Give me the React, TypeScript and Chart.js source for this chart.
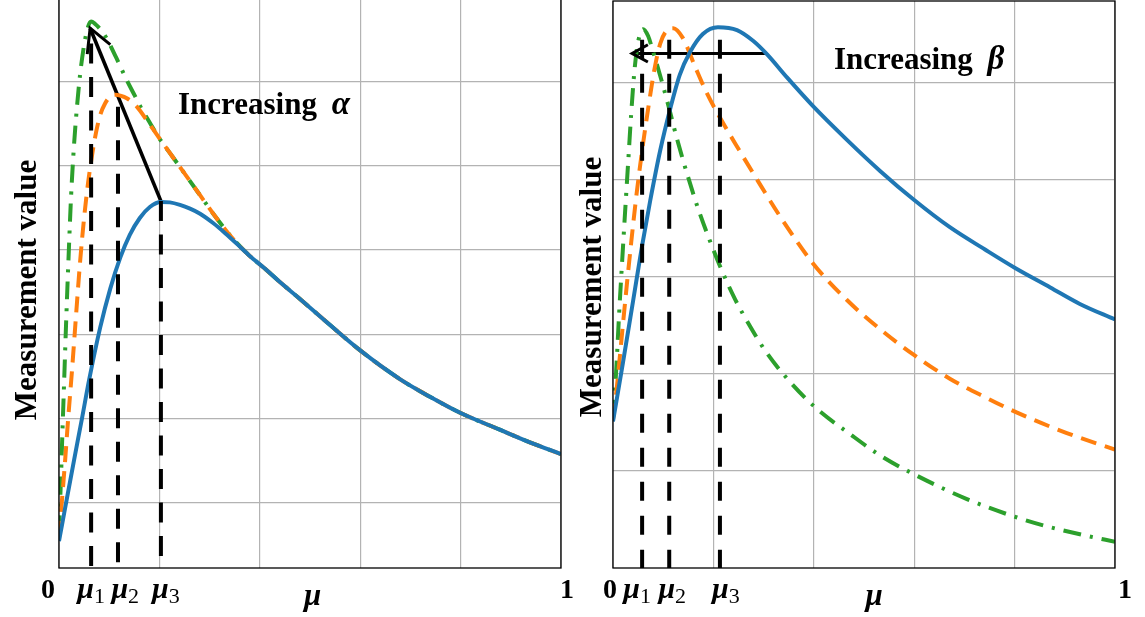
import React, { useEffect, useRef } from "react";
import { Chart, registerables } from "chart.js";

Chart.register(...registerables);

const BLUE = "#1f77b4";
const ORANGE = "#ff7f0e";
const GREEN = "#2ca02c";
const SERIF = "'Liberation Serif', 'Times New Roman', serif";

// ---------- Left panel: increasing alpha ----------
const leftBlueMu = [0, 0.006, 0.014, 0.03, 0.046, 0.06, 0.082, 0.102, 0.122, 0.141, 0.161, 0.181, 0.203, 0.221, 0.241, 0.261, 0.281, 0.307, 0.331, 0.355, 0.38, 0.41, 0.44, 0.48, 0.54, 0.6, 0.679, 0.739, 0.799, 0.878, 0.938, 1];
const leftBlueVal = [-0.45, -0.26, 0, 0.51, 1.01, 1.46, 2.08, 2.54, 2.91, 3.18, 3.38, 3.51, 3.57, 3.565, 3.535, 3.49, 3.43, 3.32, 3.2, 3.07, 2.93, 2.78, 2.62, 2.42, 2.11, 1.81, 1.47, 1.26, 1.07, 0.87, 0.72, 0.58];

const leftOrangeMu = [0, 0.006, 0.012, 0.018, 0.026, 0.034, 0.042, 0.05, 0.058, 0.066, 0.074, 0.082, 0.092, 0.102, 0.112, 0.122, 0.135, 0.155, 0.177, 0.197, 0.227, 0.245, 0.281, 0.311, 0.347, 0.38, 0.41, 0.44, 0.48, 0.54, 0.6, 0.679, 0.739, 0.799, 0.878, 0.938, 1];
const leftOrangeVal = [-0.4, 0.04, 0.49, 0.98, 1.58, 2.23, 2.86, 3.38, 3.8, 4.13, 4.4, 4.6, 4.74, 4.82, 4.84, 4.83, 4.8, 4.7, 4.52, 4.35, 4.1, 3.95, 3.65, 3.4, 3.13, 2.93, 2.78, 2.62, 2.42, 2.11, 1.81, 1.47, 1.26, 1.07, 0.87, 0.72, 0.58];

const leftGreenMu = [0, 0.004, 0.006, 0.01, 0.014, 0.02, 0.024, 0.03, 0.036, 0.042, 0.05, 0.058, 0.064, 0.072, 0.082, 0.094, 0.114, 0.137, 0.151, 0.165, 0.181, 0.197, 0.227, 0.245, 0.281, 0.311, 0.347, 0.38, 0.41, 0.44, 0.48, 0.54, 0.6, 0.679, 0.739, 0.799, 0.878, 0.938, 1];
const leftGreenVal = [-0.36, 0.31, 0.69, 1.4, 2.11, 3.06, 3.63, 4.25, 4.71, 5.08, 5.43, 5.65, 5.71, 5.68, 5.62, 5.52, 5.28, 4.99, 4.83, 4.67, 4.51, 4.35, 4.1, 3.95, 3.65, 3.4, 3.13, 2.93, 2.78, 2.62, 2.42, 2.11, 1.81, 1.47, 1.26, 1.07, 0.87, 0.72, 0.58];

const leftMarkerMu = [0.064, 0.1175, 0.203];
const leftMarkerTop = [5.45, 4.7, 3.58];
const leftArrowMu = [0.203, 0.062];
const leftArrowVal = [3.58, 5.63];
const leftYGrid = [0, 1, 2, 3, 4, 5];
const leftTickMu = [-0.022, 0.064, 0.132, 0.213, 1.012];
const leftTickLabels = ["0", "μ_1", "μ_2", "μ_3", "1"];
const leftNote = "Increasing";
const leftNoteSymbol = "α";
const leftNoteAt = [0.237, 4.61];

// ---------- Right panel: increasing beta ----------
const rightBlueMu = [0, 0.02, 0.04, 0.058, 0.074, 0.094, 0.114, 0.133, 0.153, 0.179, 0.209, 0.247, 0.279, 0.307, 0.347, 0.398, 0.466, 0.532, 0.6, 0.671, 0.741, 0.801, 0.871, 0.93, 1];
const rightBlueVal = [1.51, 2.12, 2.75, 3.32, 3.78, 4.3, 4.73, 5.08, 5.31, 5.5, 5.57, 5.54, 5.43, 5.29, 5.05, 4.76, 4.41, 4.09, 3.79, 3.51, 3.28, 3.09, 2.89, 2.72, 2.56];

const rightOrangeMu = [0, 0.006, 0.012, 0.02, 0.028, 0.036, 0.046, 0.058, 0.07, 0.082, 0.094, 0.106, 0.12, 0.139, 0.163, 0.187, 0.213, 0.253, 0.287, 0.333, 0.398, 0.466, 0.532, 0.598, 0.671, 0.741, 0.805, 0.904, 1];
const rightOrangeVal = [1.53, 1.78, 2.09, 2.52, 2.94, 3.34, 3.81, 4.3, 4.73, 5.12, 5.4, 5.53, 5.56, 5.46, 5.17, 4.89, 4.64, 4.29, 4.0, 3.62, 3.14, 2.76, 2.46, 2.2, 1.95, 1.76, 1.6, 1.39, 1.22];

const rightGreenMu = [0, 0.004, 0.008, 0.012, 0.018, 0.024, 0.03, 0.036, 0.042, 0.048, 0.054, 0.06, 0.07, 0.078, 0.094, 0.11, 0.127, 0.147, 0.169, 0.193, 0.213, 0.243, 0.273, 0.303, 0.347, 0.406, 0.472, 0.532, 0.598, 0.705, 0.805, 0.871, 0.936, 1];
const rightGreenVal = [1.55, 1.83, 2.19, 2.6, 3.14, 3.66, 4.16, 4.66, 5.08, 5.36, 5.5, 5.55, 5.48, 5.35, 5.07, 4.77, 4.43, 4.07, 3.71, 3.37, 3.11, 2.77, 2.49, 2.24, 1.95, 1.64, 1.38, 1.16, 0.97, 0.71, 0.52, 0.42, 0.34, 0.27];

const rightMarkerMu = [0.058, 0.112, 0.213];
const rightMarkerTop = [5.44, 5.44, 5.44];
const rightArrowMu = [0.303, 0.038];
const rightArrowVal = [5.3, 5.3];
const rightYGrid = [1, 2, 3, 4, 5];
const rightTickMu = [-0.006, 0.048, 0.118, 0.225, 1.02];
const rightTickLabels = ["0", "μ_1", "μ_2", "μ_3", "1"];
const rightNote = "Increasing";
const rightNoteSymbol = "β";
const rightNoteAt = [0.44, 5.14];

const xGrid = [0, 0.2, 0.4, 0.6, 0.8, 1];
const xTitle = "μ";
const yTitle = "Measurement value";

const pts = (xs: number[], ys: number[]) => xs.map((x, i) => ({ x, y: ys[i] }));

const decorPlugin = {
  id: "decor",
  afterDatasetsDraw(chart: any, _args: any, o: any) {
    const { ctx, chartArea: a } = chart;
    const xs = chart.scales.x;
    const ys = chart.scales.y;
    ctx.save();
    // frame
    ctx.strokeStyle = "#000";
    ctx.lineWidth = 1.3;
    ctx.strokeRect(a.left, a.top, a.right - a.left, a.bottom - a.top);

    // arrow head
    const ad = chart.data.datasets[o.arrowIndex].data;
    const x0 = xs.getPixelForValue(ad[0].x), y0 = ys.getPixelForValue(ad[0].y);
    const x1 = xs.getPixelForValue(ad[1].x), y1 = ys.getPixelForValue(ad[1].y);
    const ang = Math.atan2(y1 - y0, x1 - x0);
    const L = o.headLen, th = o.headAngle;
    ctx.strokeStyle = "#000";
    ctx.lineWidth = 3;
    ctx.lineCap = "butt";
    ctx.lineJoin = "miter";
    ctx.beginPath();
    ctx.moveTo(x1 - L * Math.cos(ang - th), y1 - L * Math.sin(ang - th));
    ctx.lineTo(x1, y1);
    ctx.lineTo(x1 - L * Math.cos(ang + th), y1 - L * Math.sin(ang + th));
    ctx.stroke();

    ctx.fillStyle = "#000";
    ctx.textBaseline = "alphabetic";

    // note text
    const nx = xs.getPixelForValue(o.noteAt[0]);
    const ny = ys.getPixelForValue(o.noteAt[1]);
    ctx.font = `bold 31px ${SERIF}`;
    ctx.textAlign = "left";
    ctx.fillText(o.note, nx, ny);
    const w = ctx.measureText(o.note + " ").width;
    ctx.font = `bold italic 33px ${SERIF}`;
    ctx.fillText(o.noteSymbol, nx + w + 7, ny);

    // tick labels
    const tickBase = a.bottom + 30;
    o.tickMu.forEach((m: number, i: number) => {
      const [main, sub] = o.tickLabels[i].split("_");
      const px = xs.getPixelForValue(m);
      if (sub) {
        ctx.font = `bold italic 30px ${SERIF}`;
        const mw = ctx.measureText(main).width;
        ctx.font = `22px ${SERIF}`;
        const sw = ctx.measureText(sub).width;
        const start = px - (mw + sw) / 2;
        ctx.textAlign = "left";
        ctx.font = `bold italic 30px ${SERIF}`;
        ctx.fillText(main, start, tickBase);
        ctx.font = `22px ${SERIF}`;
        ctx.fillText(sub, start + mw, tickBase + 5);
      } else {
        ctx.font = `bold 28px ${SERIF}`;
        ctx.textAlign = "center";
        ctx.fillText(main, px, tickBase);
      }
    });

    // x title
    ctx.font = `bold italic 31px ${SERIF}`;
    ctx.textAlign = "center";
    ctx.fillText(xTitle, xs.getPixelForValue(o.xTitleMu), a.bottom + 37);

    // y title
    ctx.save();
    ctx.translate(o.yTitleX, o.yTitleY);
    ctx.rotate(-Math.PI / 2);
    ctx.font = `bold 31px ${SERIF}`;
    ctx.textAlign = "center";
    ctx.fillText(yTitle, 0, 0);
    ctx.restore();

    ctx.restore();
  },
};

function buildConfig(p: any) {
  const curve = (data: any, color: string, dash: number[]) => ({
    data,
    borderColor: color,
    borderWidth: 4,
    borderDash: dash,
    borderCapStyle: "butt",
    pointRadius: 0,
    fill: false,
    cubicInterpolationMode: "monotone",
  });
  const markers = p.markerMu.map((m: number, i: number) => ({
    data: [
      { x: m, y: p.markerTop[i] },
      { x: m, y: p.yMin },
    ],
    borderColor: "#000",
    borderWidth: 4,
    borderDash: p.markerDash,
    borderCapStyle: "butt",
    pointRadius: 0,
    fill: false,
    tension: 0,
  }));
  const arrow = {
    data: pts(p.arrowMu, p.arrowVal),
    borderColor: "#000",
    borderWidth: p.arrowWidth,
    borderCapStyle: "butt",
    pointRadius: 0,
    fill: false,
    tension: 0,
  };
  const datasets: any[] = [
    ...markers,
    curve(pts(p.blueMu, p.blueVal), BLUE, []),
    curve(pts(p.orangeMu, p.orangeVal), ORANGE, [16, 9]),
    curve(pts(p.greenMu, p.greenVal), GREEN, [18, 9, 3, 9]),
    arrow,
  ];
  return {
    type: "line",
    data: { datasets },
    options: {
      animation: false,
      responsive: false,
      maintainAspectRatio: false,
      events: [],
      layout: { padding: p.padding },
      plugins: {
        legend: { display: false },
        tooltip: { enabled: false },
        decor: {
          arrowIndex: datasets.length - 1,
          headLen: p.headLen,
          headAngle: p.headAngle,
          note: p.note,
          noteSymbol: p.noteSymbol,
          noteAt: p.noteAt,
          tickMu: p.tickMu,
          tickLabels: p.tickLabels,
          xTitleMu: p.xTitleMu,
          yTitleX: p.yTitleX,
          yTitleY: p.yTitleY,
        },
      },
      scales: {
        x: {
          type: "linear",
          min: 0,
          max: 1,
          afterBuildTicks: (s: any) => {
            s.ticks = xGrid.map((v) => ({ value: v }));
          },
          ticks: { display: false },
          grid: { color: "#b3b3b3", lineWidth: 1.2, drawTicks: false },
          border: { display: false },
        },
        y: {
          type: "linear",
          min: p.yMin,
          max: p.yMax,
          afterBuildTicks: (s: any) => {
            s.ticks = p.yGrid.map((v: number) => ({ value: v }));
          },
          ticks: { display: false },
          grid: { color: "#b3b3b3", lineWidth: 1.2, drawTicks: false },
          border: { display: false },
        },
      },
    },
    plugins: [decorPlugin],
  };
}

const leftPanel = {
  blueMu: leftBlueMu, blueVal: leftBlueVal,
  orangeMu: leftOrangeMu, orangeVal: leftOrangeVal,
  greenMu: leftGreenMu, greenVal: leftGreenVal,
  markerMu: leftMarkerMu, markerTop: leftMarkerTop, markerDash: [20, 13.5],
  arrowMu: leftArrowMu, arrowVal: leftArrowVal, headLen: 26, headAngle: 0.5, arrowWidth: 3.6,
  yGrid: leftYGrid, yMin: -0.77, yMax: 6.0,
  tickMu: leftTickMu, tickLabels: leftTickLabels,
  note: leftNote, noteSymbol: leftNoteSymbol, noteAt: leftNoteAt,
  xTitleMu: 0.505,
  yTitleX: 36, yTitleY: 300,
  padding: { left: 59, right: 14, top: 7, bottom: 49 },
};

const rightPanel = {
  blueMu: rightBlueMu, blueVal: rightBlueVal,
  orangeMu: rightOrangeMu, orangeVal: rightOrangeVal,
  greenMu: rightGreenMu, greenVal: rightGreenVal,
  markerMu: rightMarkerMu, markerTop: rightMarkerTop, markerDash: [19, 15],
  arrowMu: rightArrowMu, arrowVal: rightArrowVal, headLen: 18, headAngle: 0.5, arrowWidth: 3,
  yGrid: rightYGrid, yMin: 0, yMax: 5.84,
  tickMu: rightTickMu, tickLabels: rightTickLabels,
  note: rightNote, noteSymbol: rightNoteSymbol, noteAt: rightNoteAt,
  xTitleMu: 0.52,
  yTitleX: 26, yTitleY: 287,
  padding: { left: 38, right: 30, top: 1, bottom: 49 },
};

function Panel({ cfg, left, top, width, height }: any) {
  const ref = useRef<HTMLCanvasElement>(null);
  useEffect(() => {
    if (!ref.current) return;
    const chart = new Chart(ref.current, buildConfig(cfg) as any);
    return () => chart.destroy();
  }, [cfg]);
  return (
    <canvas
      ref={ref}
      width={width}
      height={height}
      style={{ position: "absolute", left, top, width, height }}
    />
  );
}

export default function App() {
  return (
    <div
      style={{
        position: "fixed",
        left: 0,
        top: 0,
        width: 1145,
        height: 617,
        background: "#fff",
        overflow: "hidden",
      }}
    >
      <Panel cfg={leftPanel} left={0} top={-10} width={575} height={627} />
      <Panel cfg={rightPanel} left={575} top={0} width={570} height={617} />
    </div>
  );
}
